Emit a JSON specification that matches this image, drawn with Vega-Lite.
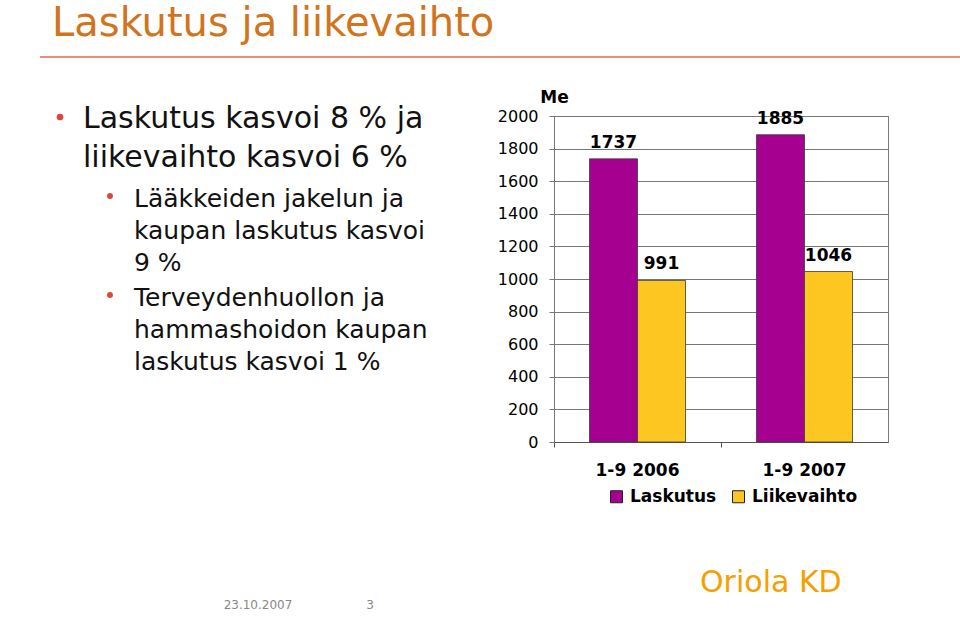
{
  "$schema": "https://vega.github.io/schema/vega-lite/v6.json",
  "width": 334,
  "height": 326,
  "autosize": {"type": "none"},
  "padding": {"left": 554, "top": 116, "right": 72, "bottom": 183},
  "background": "white",
  "config": {
    "font": "DejaVu Sans",
    "view": {"stroke": "#7a7a7a", "strokeWidth": 1}
  },
  "data": {
    "values": [
      {"period": "1-9 2006", "series": "Laskutus", "value": 1737},
      {"period": "1-9 2006", "series": "Liikevaihto", "value": 991},
      {"period": "1-9 2007", "series": "Laskutus", "value": 1885},
      {"period": "1-9 2007", "series": "Liikevaihto", "value": 1046}
    ]
  },
  "encoding": {
    "x": {
      "field": "period", "type": "nominal",
      "scale": {"paddingInner": 0.425, "paddingOuter": 0.2125},
      "axis": {
        "title": null, "labelAngle": 0, "labelFontWeight": "bold", "labelFontSize": 17,
        "labelColor": "black", "labelBaseline": "alphabetic", "labelPadding": 28, "labelOffset": 35,
        "tickSize": 5, "bandPosition": 0, "tickOffset": -35.5, "domainColor": "#555", "tickColor": "#555", "grid": false
      }
    },
    "xOffset": {"field": "series", "type": "nominal", "scale": {"paddingInner": 0, "paddingOuter": 0}},
    "y": {
      "field": "value", "type": "quantitative",
      "scale": {"domain": [0, 2000], "nice": false},
      "axis": {
        "title": "Me", "titleAngle": 0, "titleX": 0, "titleY": -14, "titleAlign": "center",
        "titleBaseline": "alphabetic", "titleFontSize": 17, "titleFontWeight": "bold", "titleColor": "black",
        "values": [0, 200, 400, 600, 800, 1000, 1200, 1400, 1600, 1800, 2000], "format": "d",
        "grid": true, "gridColor": "#777", "domainColor": "#777", "tickColor": "#777",
        "tickSize": 5, "labelPadding": 11, "labelFontSize": 16, "labelColor": "black"
      }
    }
  },
  "layer": [
    {
      "mark": {"type": "bar", "stroke": "#3a3a3a", "strokeWidth": 0.8},
      "encoding": {
        "color": {
          "field": "series", "type": "nominal",
          "scale": {"domain": ["Laskutus", "Liikevaihto"], "range": ["#A5008F", "#FDC620"]},
          "legend": {
            "title": null, "orient": "none", "legendX": 54, "legendY": 372, "direction": "horizontal",
            "symbolType": "square", "symbolSize": 144, "symbolStrokeColor": "#222", "symbolStrokeWidth": 1,
            "labelFontSize": 17, "labelFontWeight": "bold", "labelColor": "black", "labelOffset": 5,
            "columnPadding": 13, "padding": 0
          }
        }
      }
    },
    {
      "mark": {"type": "text", "dy": -11, "baseline": "alphabetic", "fontWeight": "bold", "fontSize": 17, "color": "black"},
      "encoding": {"text": {"field": "value", "type": "quantitative"}}
    },
    {
      "data": {"values": [{}]},
      "mark": {"type": "text", "align": "left", "baseline": "alphabetic", "fontSize": 40, "color": "#D2741E"},
      "encoding": {"x": {"value": -502}, "y": {"value": -80}, "text": {"value": "Laskutus ja liikevaihto"}, "xOffset": null}
    },
    {
      "data": {"values": [{}]},
      "mark": {"type": "rule", "color": "#E8907A", "strokeWidth": 2},
      "encoding": {"x": {"value": -514}, "x2": {"value": 406}, "y": {"value": -59}, "xOffset": null}
    },
    {
      "data": {"values": [{}]},
      "mark": {"type": "text", "align": "left", "baseline": "alphabetic", "fontSize": 30, "lineHeight": 39, "color": "#111"},
      "encoding": {"x": {"value": -471}, "y": {"value": 12}, "text": {"value": ["Laskutus kasvoi 8 % ja", "liikevaihto kasvoi 6 %"]}, "xOffset": null}
    },
    {
      "data": {"values": [{}]},
      "mark": {"type": "text", "align": "left", "baseline": "alphabetic", "fontSize": 25, "lineHeight": 32, "color": "#111"},
      "encoding": {"x": {"value": -420}, "y": {"value": 91}, "text": {"value": ["Lääkkeiden jakelun ja", "kaupan laskutus kasvoi", "9 %"]}, "xOffset": null}
    },
    {
      "data": {"values": [{}]},
      "mark": {"type": "text", "align": "left", "baseline": "alphabetic", "fontSize": 25, "lineHeight": 32, "color": "#111"},
      "encoding": {"x": {"value": -420}, "y": {"value": 190}, "text": {"value": ["Terveydenhuollon ja", "hammashoidon kaupan", "laskutus kasvoi 1 %"]}, "xOffset": null}
    },
    {
      "data": {"values": [{}]},
      "mark": {"type": "point", "shape": "circle", "filled": true, "size": 45, "color": "#E0453A", "opacity": 1},
      "encoding": {"x": {"value": -494}, "y": {"value": 1}, "xOffset": null}
    },
    {
      "data": {"values": [{}]},
      "mark": {"type": "point", "shape": "circle", "filled": true, "size": 35, "color": "#E0453A", "opacity": 1},
      "encoding": {"x": {"value": -444}, "y": {"value": 80}, "xOffset": null}
    },
    {
      "data": {"values": [{}]},
      "mark": {"type": "point", "shape": "circle", "filled": true, "size": 35, "color": "#E0453A", "opacity": 1},
      "encoding": {"x": {"value": -444}, "y": {"value": 179}, "xOffset": null}
    },
    {
      "data": {"values": [{}]},
      "mark": {"type": "text", "align": "center", "baseline": "alphabetic", "fontSize": 12, "color": "#888"},
      "encoding": {"x": {"value": -296}, "y": {"value": 493}, "text": {"value": "23.10.2007"}, "xOffset": null}
    },
    {
      "data": {"values": [{}]},
      "mark": {"type": "text", "align": "center", "baseline": "alphabetic", "fontSize": 12, "color": "#888"},
      "encoding": {"x": {"value": -184}, "y": {"value": 493}, "text": {"value": "3"}, "xOffset": null}
    },
    {
      "data": {"values": [{}]},
      "mark": {"type": "text", "align": "left", "baseline": "alphabetic", "fontSize": 30, "color": "#F5A000"},
      "encoding": {"x": {"value": 146}, "y": {"value": 476}, "text": {"value": "Oriola KD"}, "xOffset": null}
    }
  ]
}
